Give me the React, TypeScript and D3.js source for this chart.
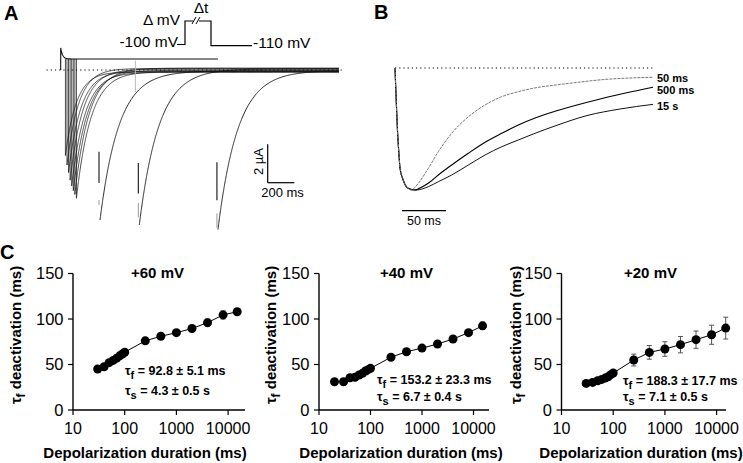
import React from "react";
import * as d3 from "d3";

const FONT = "'Liberation Sans', Arial, Helvetica, sans-serif";

// ---------- Panel A: tail currents (µA), durations in ms ----------
const clusterDurations = [30, 40, 50, 60, 70, 80, 90, 100];
const clusterPeaks = [4.5, 5.0, 5.4, 5.8, 6.1, 6.35, 6.55, 6.75];
const clusterTaus = [70, 74, 78, 82, 85, 88, 90, 92];
const clusterResidual = [0.1, -0.08, 0.06, -0.04, 0.12, 0.02, -0.1, 0.08];
const longDurations = [250, 500, 1000];
const longPeaks = [7.9, 8.15, 8.4];
const longTaus = [120, 124, 127];
const longResidual = [0.05, -0.06, 0.03];
const longDropBlack = [[-4.3, -5.95], [-4.9, -6.5], [-4.85, -6.85]];
const longDropGrey = [[-6.85, -7.1], [-7.0, -7.75], [-7.55, -8.3]];
const outwardLevel = 0.58;
const outwardSpike = 0.58;

// ---------- Panel B: normalized tails (time ms, normalized current) ----------
const b50Time = [0, 2.8, 4.5, 5.7, 9.4, 14.8, 18.2, 26.5, 37.8, 49.2, 64.4, 83.3, 102.3, 121.3, 140.1, 159.1, 181.8, 198.9, 236.4, 293];
const b50Amp = [0, -0.51, -0.71, -0.82, -0.92, -0.985, -1.0, -0.945, -0.822, -0.686, -0.535, -0.4, -0.303, -0.235, -0.194, -0.163, -0.14, -0.125, -0.095, -0.076];
const b500Time = [0, 2.8, 4.5, 5.7, 9.4, 14.8, 22.7, 26.5, 37.8, 49.2, 64.4, 83.3, 102.3, 121.3, 140.1, 159.1, 181.8, 233, 293];
const b500Amp = [0, -0.51, -0.71, -0.82, -0.92, -0.985, -1.0, -0.99, -0.945, -0.877, -0.795, -0.699, -0.609, -0.535, -0.467, -0.41, -0.355, -0.254, -0.158];
const b15Time = [0, 2.8, 4.5, 5.7, 9.4, 14.8, 23.9, 37.8, 49.2, 64.4, 83.3, 102.3, 121.3, 140.1, 159.1, 181.8, 218, 255.7, 293];
const b15Amp = [0, -0.51, -0.71, -0.82, -0.92, -0.985, -1.0, -0.973, -0.932, -0.877, -0.795, -0.713, -0.645, -0.59, -0.535, -0.475, -0.39, -0.336, -0.298];
const bLabels = ["50 ms", "500 ms", "15 s"];

// ---------- Panel C ----------
const dur60 = [30, 40, 50, 60, 70, 80, 90, 100, 250, 500, 1000, 2000, 4000, 8000, 15000];
const tau60 = [45, 47.5, 52, 54.5, 57, 59.5, 61.5, 63.5, 76, 81, 85, 89.5, 96, 104.5, 108];
const err60 = [1.5, 1.5, 1.5, 1.5, 1.5, 1.5, 1.5, 1.5, 3, 3, 3, 3.5, 4, 4.5, 3];
const dur40 = [20, 30, 40, 50, 60, 70, 80, 90, 100, 250, 500, 1000, 2000, 4000, 8000, 15000];
const tau40 = [31, 31, 35.5, 36, 38.5, 40.3, 42.9, 44.3, 45.8, 58, 64, 68, 72.5, 78, 85, 92.5];
const err40 = [2, 2, 2, 2, 2, 2, 2, 2, 2, 2.5, 2.5, 2.5, 2.5, 2.5, 3, 4];
const dur20 = [30, 40, 50, 60, 70, 80, 90, 100, 250, 500, 1000, 2000, 4000, 8000, 15000];
const tau20 = [29.2, 30.3, 32.2, 33.6, 35.1, 36.6, 38.8, 40.6, 54.9, 63.3, 67, 71.8, 77.3, 82.7, 90];
const err20 = [1, 1, 1, 1, 1, 1, 1.5, 1.5, 6.5, 7.5, 8, 9, 9.5, 10.5, 12];
const cTitles = ["+60 mV", "+40 mV", "+20 mV"];
const cTauF = ["92.8 ± 5.1 ms", "153.2 ± 23.3 ms", "188.3 ± 17.7 ms"];
const cTauS = ["4.3 ± 0.5 s", "6.7 ± 0.4 s", "7.1 ± 0.5 s"];
const xTicks = [10, 100, 1000, 10000];
const yTicks = [0, 50, 100, 150];

const layoutsC = [
  { x0: 73, decade: 51.7, xEnd: 245, yTitleX: 21, xTitleX: 145, titleX: 157.5, annX: 125, annY1: 375, annY2: 395 },
  { x0: 319, decade: 51.5, xEnd: 489, yTitleX: 276, xTitleX: 401, titleX: 406.5, annX: 377, annY1: 384, annY2: 401 },
  { x0: 561.5, decade: 51.7, xEnd: 726, yTitleX: 521, xTitleX: 641, titleX: 650.5, annX: 623, annY1: 385, annY2: 401 },
];

function PanelA() {
  const xA = d3.scaleLinear().domain([0, 1000]).range([60.7, 60.7 + 1000 / 6.36]);
  const yA = d3.scaleLinear().domain([0, -2]).range([70, 108]);
  const line = d3.line<[number, number]>().x(d => xA(d[0])).y(d => yA(d[1]));
  const tEnd = 1770;

  const tail = (d: number, peak: number, tau: number, resid: number) => {
    const ss = d3.range(0, 150, 1).concat(d3.range(150, tEnd - d, 6));
    ss.push(tEnd - d);
    return ss.map(s => [d + s, -((peak - resid) * Math.exp(-s / tau) + resid)] as [number, number]);
  };

  const outward: [number, number][] = [[0, 0]].concat(
    d3.range(0, 1001, 2).map(t => [t, outwardLevel + outwardSpike * Math.exp(-t / 12)])
  ) as [number, number][];

  return (
    <g>
      <line x1={xA(-90)} x2={xA(1800)} y1={yA(0)} y2={yA(0)} stroke="#000" strokeWidth={1} strokeDasharray="1.2,3" />
      {clusterDurations.map((d, i) => {
        const pts = tail(d, clusterPeaks[i], clusterTaus[i], clusterResidual[i]);
        const full: [number, number][] = [[d, outwardLevel], ...pts];
        return <path key={"c" + i} d={line(full) || ""} fill="none" stroke="#111" strokeWidth={0.75} />;
      })}
      {longDurations.map((d, i) => {
        const pts = tail(d, longPeaks[i], longTaus[i], longResidual[i]);
        const xd = xA(d) - 1;
        return (
          <g key={"l" + i}>
            <path d={line(pts) || ""} fill="none" stroke="#111" strokeWidth={0.9} />
            <line x1={xd} x2={xd} y1={yA(longDropBlack[i][0])} y2={yA(longDropBlack[i][1])} stroke="#111" strokeWidth={1.1} />
            <line x1={xd} x2={xd} y1={yA(longDropGrey[i][0])} y2={yA(longDropGrey[i][1])} stroke="#999" strokeWidth={1} />
          </g>
        );
      })}
      <line x1={xA(475)} x2={xA(475)} y1={yA(0.5)} y2={yA(-1.16)} stroke="#bbb" strokeWidth={1} />
      <path d={line(outward) || ""} fill="none" stroke="#111" strokeWidth={1.1} />
      {/* scale bars */}
      <line x1={267.7} x2={267.7} y1={144.3} y2={182.7} stroke="#000" strokeWidth={1.2} />
      <line x1={267.7} x2={294.3} y1={182.7} y2={182.7} stroke="#000" strokeWidth={1.2} />
      <text transform="translate(263,161.5) rotate(-90)" textAnchor="middle" fontSize={13} fontFamily={FONT}>2 µA</text>
      <text x={282.5} y={197} textAnchor="middle" fontSize={13} fontFamily={FONT}>200 ms</text>
      {/* protocol */}
      <path d="M177,44.5 H185 V21 H193 M199,21 H211 V45.7 H252" fill="none" stroke="#000" strokeWidth={1.2} />
      <line x1={192} y1={24} x2={196} y2={17} stroke="#000" strokeWidth={1} />
      <line x1={196} y1={24} x2={200} y2={17} stroke="#000" strokeWidth={1} />
      <text x={180} y={25} textAnchor="end" fontSize={15.5} fontFamily={FONT}>Δ mV</text>
      <text x={201} y={12.5} textAnchor="middle" fontSize={15.5} fontFamily={FONT}>Δt</text>
      <text x={178} y={47} textAnchor="end" fontSize={15.5} fontFamily={FONT}>-100 mV</text>
      <text x={253} y={48} fontSize={15.5} fontFamily={FONT}>-110 mV</text>
    </g>
  );
}

function PanelB() {
  const xB = d3.scaleLinear().domain([0, 293]).range([395, 653]);
  const yB = d3.scaleLinear().domain([0, -1]).range([68, 190]);
  const line = d3.line<number>().curve(d3.curveMonotoneX);
  const mk = (ts: number[], as: number[]) => line.x((_, i) => xB(ts[i])).y((_, i) => yB(as[i]))(ts) || "";
  const labelY = [81.5, 94, 110];
  return (
    <g>
      <line x1={xB(0)} x2={xB(293)} y1={yB(0)} y2={yB(0)} stroke="#000" strokeWidth={1} strokeDasharray="1.2,3" />
      <path d={mk(b15Time, b15Amp)} fill="none" stroke="#111" strokeWidth={1} />
      <path d={mk(b500Time, b500Amp)} fill="none" stroke="#000" strokeWidth={1.15} />
      <path d={mk(b50Time, b50Amp)} fill="none" stroke="#777" strokeWidth={1} strokeDasharray="3,1" />
      {bLabels.map((l, i) => (
        <text key={l} x={657} y={labelY[i]} fontSize={11} fontWeight="bold" fontFamily={FONT}>{l}</text>
      ))}
      <line x1={402} x2={402 + 50 * 0.88} y1={210.7} y2={210.7} stroke="#000" strokeWidth={1.2} />
      <text x={424} y={224.5} textAnchor="middle" fontSize={12.5} fontFamily={FONT}>50 ms</text>
    </g>
  );
}

function PlotC({ idx, durs, vals, errs }: { idx: number; durs: number[]; vals: number[]; errs: number[] }) {
  const L = layoutsC[idx];
  const x = d3.scaleLog().domain([10, 10000]).range([L.x0, L.x0 + 3 * L.decade]);
  const y = d3.scaleLinear().domain([0, 150]).range([410, 273.5]);
  const line = d3.line<number>().x((_, i) => x(durs[i])).y((_, i) => y(vals[i]));
  return (
    <g fontFamily={FONT}>
      <path d={line(durs) || ""} fill="none" stroke="#000" strokeWidth={1} />
      {durs.map((d, i) => (
        <g key={i} stroke="#555" strokeWidth={1}>
          <line x1={x(d)} x2={x(d)} y1={y(vals[i] - errs[i])} y2={y(vals[i] + errs[i])} />
          <line x1={x(d) - 2.5} x2={x(d) + 2.5} y1={y(vals[i] + errs[i])} y2={y(vals[i] + errs[i])} />
          <line x1={x(d) - 2.5} x2={x(d) + 2.5} y1={y(vals[i] - errs[i])} y2={y(vals[i] - errs[i])} />
        </g>
      ))}
      {durs.map((d, i) => (
        <circle key={"p" + i} cx={x(d)} cy={y(vals[i])} r={4.5} fill="#000" />
      ))}
      <line x1={L.x0} x2={L.x0} y1={y(0)} y2={y(150)} stroke="#000" strokeWidth={1.4} />
      <line x1={L.x0} x2={L.xEnd} y1={y(0)} y2={y(0)} stroke="#000" strokeWidth={1.4} />
      {yTicks.map(t => (
        <g key={"y" + t}>
          <line x1={L.x0 - 5} x2={L.x0} y1={y(t)} y2={y(t)} stroke="#000" strokeWidth={1.2} />
          <text x={L.x0 - 9.5} y={y(t)} dy="0.36em" textAnchor="end" fontSize={16.5}>{t}</text>
        </g>
      ))}
      {xTicks.map(t => (
        <g key={"x" + t}>
          <line x1={x(t)} x2={x(t)} y1={y(0)} y2={y(0) + 5} stroke="#000" strokeWidth={1.2} />
          <text x={x(t)} y={433.5} textAnchor="middle" fontSize={16}>{t}</text>
        </g>
      ))}
      <text x={L.xTitleX} y={457.5} textAnchor="middle" fontSize={15} fontWeight="bold">Depolarization duration (ms)</text>
      <text transform={`translate(${L.yTitleX},335) rotate(-90)`} textAnchor="middle" fontSize={15} fontWeight="bold">
        τ<tspan dy={4} fontSize={12}>f</tspan><tspan dy={-4}> deactivation (ms)</tspan>
      </text>
      <text x={L.titleX} y={278} textAnchor="middle" fontSize={15} fontWeight="bold">{cTitles[idx]}</text>
      <text x={L.annX} y={L.annY1} fontSize={12.5} fontWeight="bold">
        τ<tspan dy={3.5} fontSize={11}>f</tspan><tspan dy={-3.5}>{" = " + cTauF[idx]}</tspan>
      </text>
      <text x={L.annX} y={L.annY2} fontSize={12.5} fontWeight="bold">
        τ<tspan dy={3.5} fontSize={11}>s</tspan><tspan dy={-3.5}>{" = " + cTauS[idx]}</tspan>
      </text>
    </g>
  );
}

export default function App() {
  return (
    <svg
      width={743}
      height={463}
      viewBox="0 0 743 463"
      style={{ position: "absolute", left: 0, top: 0, display: "block", background: "#fff" }}
      fontFamily={FONT}
    >
      <rect width={743} height={463} fill="#fff" />
      <text x={4} y={20} fontSize={20} fontWeight="bold">A</text>
      <text x={374} y={19} fontSize={20} fontWeight="bold">B</text>
      <text x={0} y={259} fontSize={20} fontWeight="bold">C</text>
      <PanelA />
      <PanelB />
      <PlotC idx={0} durs={dur60} vals={tau60} errs={err60} />
      <PlotC idx={1} durs={dur40} vals={tau40} errs={err40} />
      <PlotC idx={2} durs={dur20} vals={tau20} errs={err20} />
    </svg>
  );
}
